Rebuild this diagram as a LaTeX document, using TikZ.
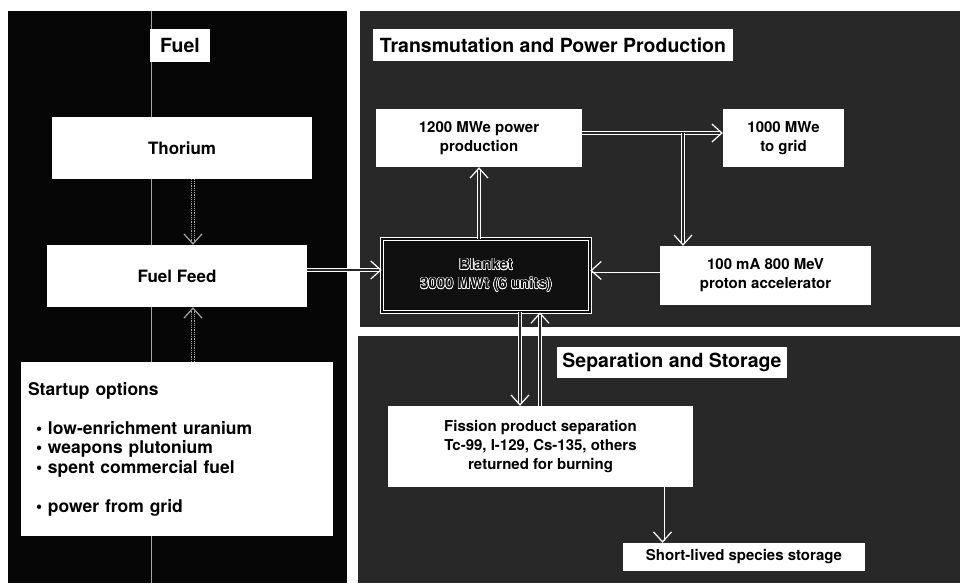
\documentclass[tikz,border=0pt]{standalone}
\usepackage{fontspec}
\setmainfont{TeX Gyre Heros}
\usepackage{xcolor}
\usepackage{tikz}
\usepackage{contour}
\usetikzlibrary{arrows.meta,positioning,calc}
\definecolor{fuelblack}{RGB}{6, 6, 6}
\definecolor{plantgray}{RGB}{40, 40, 40}
\definecolor{coreblack}{RGB}{16, 16, 16}
\definecolor{seamgray}{RGB}{165, 165, 165}
\contourlength{0.5pt}
\newcommand{\hollowtext}[1]{\contour{white}{\textcolor{coreblack}{#1}}}
\tikzset{
  titlebox/.style={
    fill=white,
    draw=none,
    inner sep=3pt,
    font=\bfseries\fontsize{19.5}{22}\selectfont
  },
  stagebox/.style={
    fill=white,
    draw=none,
    align=center,
    inner sep=4pt,
    font=\bfseries\fontsize{15}{19}\selectfont
  },
  fuelbox/.style={
    stagebox,
    font=\bfseries\fontsize{17}{20}\selectfont
  },
  corebox/.style={
    stagebox,
    fill=coreblack,
    draw=white,
    line width=0.7pt,
    double=coreblack,
    double distance=2.6pt
  },
  flowarrow/.style={
    draw=white,
    line width=0.8pt,
    double=plantgray,
    double distance=2.4pt,
    -{Straight Barb[length=10pt, width=18pt, line width=1.2pt]}
  },
  feedarrow/.style={
    flowarrow,
    draw=seamgray,
    double=fuelblack,
    densely dotted
  }
}
\begin{document}
\begin{tikzpicture}[x=1pt, y=-1pt]
  \useasboundingbox[fill=white] (0,0) rectangle (960,583);
  \fill[fuelblack] (8,11) rectangle (347,583);
  \fill[plantgray] (360,11) rectangle (960,327);
  \fill[plantgray] (358,336) rectangle (960,583);
  \draw[seamgray, line width=0.6pt] (151,11) -- (151,583);

  \node[titlebox, minimum width=60pt, minimum height=33pt] (fueltitle) at (180,45.5) {Fuel};
  \node[fuelbox, minimum width=260pt, minimum height=62pt] (thorium) at (182,148) {Thorium};
  \node[fuelbox, minimum width=260pt, minimum height=62pt] (feed) at (177,276) {Fuel Feed};
  \node[fuelbox, align=left, text width=298pt, minimum height=174pt, inner sep=7pt, font=\bfseries\fontsize{17.5}{19.5}\selectfont] (startup) at (177,449) {Startup options\\[19.5pt]
    \hspace*{8pt}\textbullet\ low-enrichment uranium\\
    \hspace*{8pt}\textbullet\ weapons plutonium\\
    \hspace*{8pt}\textbullet\ spent commercial fuel\\[19.5pt]
    \hspace*{8pt}\textbullet\ power from grid};

  \node[titlebox, minimum width=360pt, minimum height=32pt] (planttitle) at (553,45) {Transmutation and Power Production};
  \node[stagebox, minimum width=206pt, minimum height=58pt] (power) at (479,138) {1200 MWe power\\production};
  \node[stagebox, minimum width=121pt, minimum height=58pt] (grid) at (783.5,138) {1000 MWe\\to grid};
  \node[corebox, minimum width=208pt, minimum height=73pt] (blanket) at (486,275.5) {\hollowtext{Blanket}\\\hollowtext{3000 MWt (6 units)}};
  \node[stagebox, minimum width=211pt, minimum height=59pt] (accel) at (765.5,275.5) {100 mA 800 MeV\\proton accelerator};

  \node[titlebox, minimum width=230pt, minimum height=31pt] (septitle) at (672,362.5) {Separation and Storage};
  \node[stagebox, minimum width=305pt, minimum height=81pt] (fission) at (540.5,446.5) {Fission product separation\\Tc-99, I-129, Cs-135, others\\returned for burning};
  \node[stagebox, minimum width=242pt, minimum height=28pt] (storage) at (744,557) {Short-lived species storage};

  \coordinate (tap) at (683,133);
  \draw[feedarrow] ([xshift=11pt]thorium.south) -- ([xshift=11pt]thorium.south |- feed.north);
  \draw[feedarrow] ([xshift=16pt]startup.north) -- ([xshift=16pt]startup.north |- feed.south);
  \draw[flowarrow] ([yshift=6pt]feed.east) -- ([yshift=6pt]feed.east -| blanket.west);
  \draw[flowarrow] (blanket.north -| power.south) -- (power.south);
  \draw[flowarrow] ([yshift=5pt]power.east) -- ([yshift=5pt]power.east -| grid.west);
  \draw[flowarrow] (tap) -- (tap |- accel.north);
  \draw[flowarrow] ([yshift=5pt]accel.west) -- ([yshift=5pt]accel.west -| blanket.east);
  \draw[flowarrow] ([xshift=34pt]blanket.south) -- ([xshift=34pt]blanket.south |- fission.north);
  \draw[flowarrow] ([xshift=54pt]blanket.south |- fission.north) -- ([xshift=54pt]blanket.south);
  \draw[flowarrow] ([xshift=122pt]fission.south) -- ([xshift=122pt]fission.south |- storage.north);
\end{tikzpicture}
\end{document}
